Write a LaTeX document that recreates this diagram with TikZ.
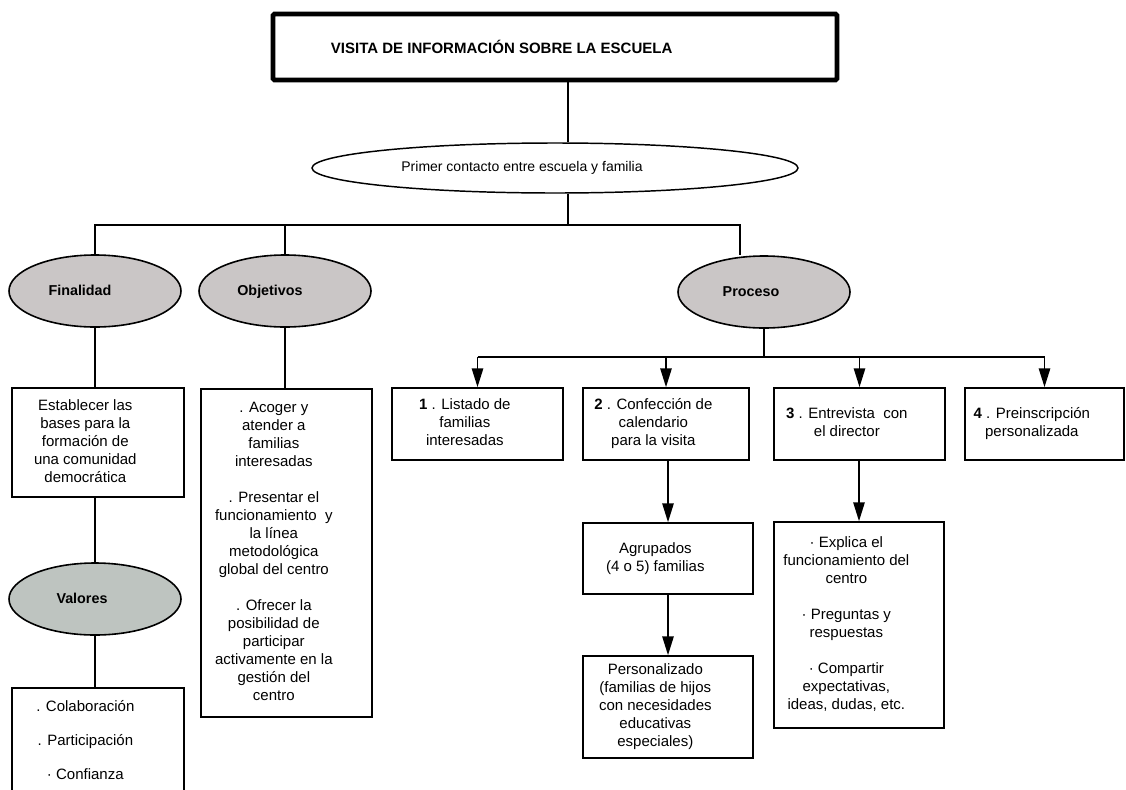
\documentclass[tikz,border=0pt]{standalone}
\usepackage{fontspec}
\setmainfont{Liberation Sans}
\usetikzlibrary{shapes.geometric,arrows.meta}
\definecolor{elgray}{RGB}{202,198,198}
\definecolor{valgray}{RGB}{190,196,192}
\newcommand{\txt}{\fontsize{11.25}{13.5}\selectfont}
% texto centrado, algo corrido a la izquierda dentro de la caja
\newcommand{\boxtxt}[1]{\begin{tabular}{@{}c@{\hspace{19pt}}}#1\end{tabular}}
\tikzset{
  every node/.style={font=\txt},
  box/.style={draw, line width=1.3pt, inner sep=0pt},
  oval/.style={draw, ellipse, line width=1.2pt, fill=elgray,
    font=\fontsize{10.75}{13}\selectfont\bfseries, text height=8pt, text depth=2pt,
    minimum width=129pt, minimum height=54pt, inner sep=0pt},
  link/.style={line width=1.1pt},
  arrow/.style={link, -{Triangle[length=14pt,width=8.5pt]}},
}
\begin{document}
\begin{tikzpicture}[x=0.75pt,y=-0.75pt]
\useasboundingbox (0,0) rectangle (1126,789);
% cabecera
\node[draw, line width=3.5pt, rounded corners=1pt, minimum width=423pt, minimum height=49.5pt,
  font=\txt\bfseries] (title) at (555,47) {VISITA DE INFORMACIÓN SOBRE LA ESCUELA\hspace*{80pt}};
\node[draw, ellipse, line width=1.1pt, minimum width=364.5pt, minimum height=37.5pt,
  font=\fontsize{10.5}{12.5}\selectfont]
  (contacto) at (555,168) {Primer contacto entre escuela y familia\hspace*{49.5pt}};
\coordinate (bus) at (568,225);
\draw[link] (title.south -| bus) -- (contacto.north -| bus);
\draw[link, line width=2pt] (contacto.south -| bus) -- (bus);

\node[oval] (finalidad) at (95,291) {Finalidad\hspace*{22.5pt}};
\node[oval] (objetivos) at (285,291) {Objetivos\hspace*{22.5pt}};
\node[oval] (proceso) at (764,292) {Proceso\hspace*{19.5pt}};
\coordinate (pin) at (740,225);
\draw[link] (finalidad.north) |- (bus);
\draw[link] (objetivos.north) -- (objetivos.north |- bus);
\draw[link] (bus) -| (proceso.north -| pin);

% finalidad y valores
\node[box, minimum width=129pt, minimum height=81.75pt] (establecer) at (98,442.5)
  {\boxtxt{Establecer las\\bases para la\\formación de\\una comunidad\\democrática}};
\draw[link] (finalidad.south) -- (finalidad.south |- establecer.north);
\node[oval, fill=valgray] (valores) at (95,599) {Valores\hspace*{19.5pt}};
\draw[link] (establecer.south -| valores) -- (valores.north);
\node[box, minimum width=129pt, minimum height=81pt] (colab) at (98,742)
  {\boxtxt{. Colaboración\\[12pt]. Participación\\[12pt]· Confianza}};
\draw[link] (valores.south) -- (valores.south |- colab.north);

% objetivos
\node[box, minimum width=128.25pt, minimum height=246pt] (objbox) at (286.5,553)
  {\boxtxt{. Acoger y\\atender a\\familias\\interesadas\\[13.5pt]
   . Presentar el\\funcionamiento~ y\\la línea\\metodológica\\global del centro\\[13.5pt]
   . Ofrecer la\\posibilidad de\\participar\\activamente en la\\gestión del\\centro}};
\draw[link] (objetivos.south) -- (objetivos.south |- objbox.north);

% proceso
\coordinate (pbus) at (763,357);
\draw[link, line width=2pt] (proceso.south) -- (proceso.south |- pbus);
\node[box, minimum width=128.25pt, minimum height=54pt] (listado) at (477.5,424)
  {\boxtxt{\textbf{1} . Listado de\\familias\\interesadas}};
\node[box, minimum width=124.5pt, minimum height=54pt] (calendario) at (666,424)
  {\boxtxt{\textbf{2} . Confección de\\calendario\\para la visita}};
\node[box, minimum width=128.25pt, minimum height=54pt] (entrevista) at (859.5,424)
  {\boxtxt{\textbf{3} . Entrevista~ con\\el director}};
\node[box, minimum width=119.25pt, minimum height=54pt] (preins) at (1044.5,424)
  {\boxtxt{\textbf{4} . Preinscripción\\personalizada}};
\draw[link] (pbus -| listado) -- (pbus -| preins);
\foreach \n in {listado,calendario,entrevista,preins}
  \draw[arrow] (pbus -| \n) -- (\n.north);

\node[box, minimum width=127.5pt, minimum height=53.25pt] (agrupados) at (668,558.5)
  {\boxtxt{Agrupados\\(4 o 5) familias}};
\node[box, minimum width=127.5pt, minimum height=76.5pt] (personal) at (668,707)
  {\boxtxt{Personalizado\\(familias de hijos\\con necesidades\\educativas\\especiales)}};
\draw[arrow] (calendario.south -| agrupados) -- (agrupados.north);
\draw[arrow] (agrupados.south) -- (personal.north);

\node[box, minimum width=127.5pt, minimum height=154.5pt] (explica) at (859,625)
  {\boxtxt{· Explica el\\funcionamiento del\\centro\\[13.5pt]· Preguntas y\\respuestas\\[13.5pt]
   · Compartir\\expectativas,\\ideas, dudas, etc.}};
\draw[arrow] (entrevista.south -| explica) -- (explica.north);
\end{tikzpicture}
\end{document}
